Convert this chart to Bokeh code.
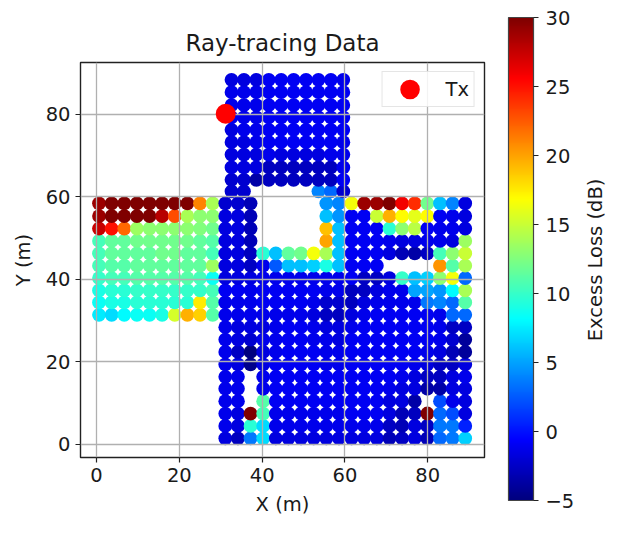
from bokeh.plotting import figure
from bokeh.models import ColumnDataSource, LinearColorMapper, FixedTicker, Legend, LegendItem, ColorBar, LinearAxis
from bokeh.embed import file_html
from bokeh.resources import INLINE
from bokeh.transform import transform

N = None
title_text = "Ray-tracing Data"
x_label = "X (m)"
y_label = "Y (m)"
cbar_label = "Excess Loss (dB)"
legend_label = "Tx"
tx_x = [31.2]
tx_y = [80.1]
x_ticks = [0, 20, 40, 60, 80]
y_ticks = [0, 20, 40, 60, 80]
cbar_ticks = [-5, 0, 5, 10, 15, 20, 25, 30]

x_main = [0.6, 3.65, 6.7, 9.75, 12.8, 15.85, 18.9, 21.95, 25.0, 28.05,
          31.1, 34.15, 37.2, 40.25, 43.3, 46.35, 49.4, 52.45, 55.5, 58.55,
          61.6, 64.65, 67.7, 70.75, 73.8, 76.85, 79.9, 82.95, 86.0, 89.05]
y_main = [1.5, 4.5, 7.5, 10.5, 13.5, 16.4, 19.4, 22.4, 25.4, 28.4,
          31.4, 34.4, 37.3, 40.3, 43.3, 46.3, 49.3, 52.3, 55.3, 58.4]
x_top = [32.6, 35.6, 38.6, 41.6, 44.6, 47.6, 50.6, 53.6, 56.6, 59.6]
y_top = [61.3, 64.1, 67.1, 70.2, 73.2, 76.2, 79.2, 82.2, 85.3, 88.3]

# main grid, rows from y = 1.5 upward, 30 columns
r00 = [N]*10 + [-1.7, -2.8, 3.5, 7, -1.7, -1.7, -1.7, -1.7, -1.7, -1.7, -1.7, -1.7, -1.7, -3, -2.6, -1.7, -3, 3, 3.5, 6.5]
r01 = [N]*10 + [-1.2, -1.7, 9.5, 7, -1.2, -1.2, -1.2, -1.2, -1.2, -1.2, -1.2, -1.2, -1.2, -2.6, -3, -1.7, -2.6, 3.5, 3.5, 0.5]
r02 = [N]*10 + [-1.2, -1.7, 30, 10.5, -1.2, -1.2, -1.2, -1.2, -1.2, -1.2, -1, -1, -1, -1.7, -3, -2.8, 30, 3, 2, -1.7]
r03 = [N]*10 + [-1.2, -1.2, N, 11, -1, -1, -1, -1, -1, -1, -1, -1, -1, -1.7, -1.7, -3.5, N, 2, -1.2, -1.7]
r04 = [N]*10 + [-1.2, -1.2, N, -1.2, -1, -1, -1, -1, -1, -1, -1, -1, -1, -1.2, -1.7, -1.7, -3.5, -3.5, -1.7, -1.7]
r05 = [N]*10 + [-1.2, -1.2, N, -1.2, -1, -1, -1, -1, -1, -1, -1, -1, -1, -1, -1.2, -1.7, -2.6, -2.8, -1.7, -1.2]
r06 = [N]*10 + [-1.2, -1.7, -4.5, -1.7, -1, -1, -1, -1, -1.2, -1.2, -1, -1, -1, -1, -1, -1.2, -1.7, -2.6, -2.6, -1.7]
r07 = [N]*10 + [-1.2, -2.6, -5, -1.7, -1.2, -1, -1, -1, -1.2, -1.2, -1, -1, -1, -1, -1, -1, -1.2, -1.7, -3, -4]
r08 = [N]*10 + [-1.2, -1.7, -2.2, -1.2, -1.2, -1, -1, -1.2, -1.2, -1.7, -1, -1, -1, -1, -1, -1, -1, -1.2, -2.2, -4]
r09 = [N]*10 + [-1.2, -1.7, -1.7, -1.7, -1.2, -1, -1, -1.2, -1.7, -1.7, -1.2, -1, -1, -1, -1, -1, -1, -1.2, -2.6, -2.6]
r10 = [7.5, 7, 8, 8.5, 8.5, 9, 15.5, 19.5, 18.5, 11,
       -1.2, -1.2, -1.2, -1.2, -1.2, -1.2, -1.2, -1.7, -2.6, -2.8,
       -1.7, -1.2, -1, -1, -1, -1, -1, -1.2, 3, 3]
r11 = [8.5, 9, 9, 9.5, 9.5, 9.5, 9.5, 9.5, 17.5, 11,
       -1.2, -1.2, -1.2, -1, -1, -1, -1, -1.2, -2.2, -2.2,
       -2.8, -1.7, -1.2, -1.2, -1.2, -1.2, 3.5, 4, 3, 11]
r12 = [9, 9.5, 9.5, 10, 10, 10, 10, 10, 10, 10.5,
       -1, -1, -1.2, -1, -1, -1, -1, -1, -1.2, -1.2,
       -2.8, -2.6, -1.7, -1.2, -1.2, 5, 5, 4.5, 8, 14]
r13 = [10, 10.5, 10.5, 11, 11, 11, 11, 11, 10.5, 8.5,
       -1.7, -1.7, -1.7, -1.2, -1.2, -1.2, -1.2, -1.2, -1.2, -1.2,
       -1, -2.6, -2.6, -1.7, 10, 6, 6.5, 13, 16.5, 3]
r14 = [10.5, 11, 11, 11.5, 11.5, 11.5, 11.5, 11.5, 11.5, 13.5,
       -1.7, -1.7, -2.6, -1.2, 2.5, 6, 6, 6.5, 9, 6,
       -1, -1, -1, N, N, N, N, 20.5, 11, 14]
r15 = [10.5, 11.5, 11.5, 11.5, 11.5, 12, 12, 11.5, 11.5, 10.5,
       -1.7, -1.7, -2.8, 9.5, 6, 11.5, 12, 16.5, 14, 6,
       -1, -1, -1, -1.7, -3, -3.5, -2.6, 10.5, 13, 15]
r16 = [10.5, 11.5, 11.5, 12, 12, 12, 12, 12, 11.5, 11,
       -1.7, -1.7, -3, N, N, N, N, N, 20, 6,
       -1, -1, -1, -1.2, -1.7, -1.7, -1.2, -1.2, -1.7, 13.5]
r17 = [27.5, 25, 22, 13.5, 13, 13, 13, 13, 12.5, 12,
       -1.7, -1.7, -3, N, N, N, N, N, 19, 6,
       -1, -1, -1, 9.5, 13, 14.5, -1, -1.2, -1.2, -1.7]
r18 = [29, 30, 30, 30, 30, 28, 23, 14, 13, 13,
       -1.7, -1.7, -3, N, N, N, N, N, 6, 4.5,
       -1, -1, 15, 19.5, 17, 16, 17, -1, -1.2, -1.7]
r19 = [29, 30, 30, 30, 30, 30, 30, 30, 21, 14,
       -2.2, -2.2, -3, N, N, N, N, N, 4.5, 4,
       16.5, 29, 29, 30, 26, 24, 12, 6, 4, -1.7]
main_rows = [r00, r01, r02, r03, r04, r05, r06, r07, r08, r09,
             r10, r11, r12, r13, r14, r15, r16, r17, r18, r19]

# upper room, rows from y = 61.3 upward, 10 columns
t20 = [-2.2, -2.2, N, N, N, N, N, 4, 3, -2.2]
t21 = [-2.2, -2.2, -3.5, -2.8, -2.8, -2.8, -2.8, -2.8, -2.8, -1]
t22 = [-1.7, -1.7, -1.7, -2.8, -2.8, -2.8, -2.8, -2.8, -2.8, -1.2]
t23 = [-1.7, -1.7, -1.7, -1.2, -1.7, -1.7, -1.7, -1.7, -1.2, -1.2]
t24 = [-1.7, -1.7, -1.2, -1, -1, -1, -1, -1, -1, -1.2]
t25 = [-1.7, -1.2, -1.2, -1, -1, -1, -1, -1, -1, -1]
t26 = [-1.2, -1.2, -1.2, -1, -1, -1, -1, -1, -1, -1]
t27 = [-1.2, -1.2, -1.2, -1, -1, -1, -1, -1, -1, -1]
t28 = [-1.2, -1.2, -1.2, -1, -1, -1, -1, -1, -1, -1]
t29 = [-1.7, -1.7, -1.7, -1, -1, -1, -1, -1, -1, -1.2]
top_rows = [t20, t21, t22, t23, t24, t25, t26, t27, t28, t29]


def jet(t):
    def clip(v):
        return max(0.0, min(1.0, v))
    r = clip(min(4 * t - 1.5, -4 * t + 4.5))
    g = clip(min(4 * t - 0.5, -4 * t + 3.5))
    b = clip(min(4 * t + 0.5, -4 * t + 2.5))
    return "#%02x%02x%02x" % (int(r * 255), int(g * 255), int(b * 255))


palette = [jet(i / 255) for i in range(256)]
mapper = LinearColorMapper(palette=palette, low=-5, high=30)

xs, ys, vals = [], [], []
for yy, rw in zip(y_main, main_rows):
    for xx, v in zip(x_main, rw):
        if v is not None:
            xs.append(xx); ys.append(yy); vals.append(v)
for yy, rw in zip(y_top, top_rows):
    for xx, v in zip(x_top, rw):
        if v is not None:
            xs.append(xx); ys.append(yy); vals.append(v)
src = ColumnDataSource(dict(x=xs, y=ys, v=vals))

TXT = "#1a1a1a"
FONT = "DejaVu Sans"
TICK_PX = "19.5px"

p = figure(width=628, height=520, x_range=(-3.87, 93.7), y_range=(-3.15, 92.5),
           output_backend="svg", toolbar_location=None,
           min_border_left=80, min_border_right=144, min_border_top=62, min_border_bottom=63)
p.title.text = title_text
p.title.align = "center"
p.title.text_font = FONT
p.title.text_font_size = "23px"
p.title.text_font_style = "normal"
p.title.text_color = TXT
p.title.standoff = 13

dots = p.scatter("x", "y", source=src, size=13.8, line_color=None,
                 fill_color=transform("v", mapper), level="underlay")
tx = p.scatter(tx_x, tx_y, size=10, line_width=10, color="#ff0000", level="annotation")

for ax, lab, ticks in ((p.xaxis[0], x_label, x_ticks), (p.yaxis[0], y_label, y_ticks)):
    ax.axis_label = lab
    ax.ticker = FixedTicker(ticks=ticks)
    ax.minor_tick_line_color = None
    ax.major_tick_in = 0
    ax.major_tick_out = 5
    ax.major_tick_line_width = 1.2
    ax.major_tick_line_color = "#222222"
    ax.axis_line_color = None
    ax.major_label_text_font = FONT
    ax.major_label_text_font_size = TICK_PX
    ax.major_label_text_color = TXT
    ax.axis_label_text_font = FONT
    ax.axis_label_text_font_size = TICK_PX
    ax.axis_label_text_font_style = "normal"
    ax.axis_label_text_color = TXT
    ax.axis_label_standoff = 8
p.yaxis[0].major_label_orientation = "horizontal"
p.outline_line_color = "#222222"
p.outline_line_width = 1.4
p.grid.grid_line_color = "#b0b0b0"
p.grid.grid_line_width = 1.3
p.grid.level = "glyph"

leg = Legend(items=[LegendItem(label=legend_label, renderers=[tx])],
             location="top_right", margin=9, padding=5, spacing=0,
             glyph_width=44, glyph_height=24, label_standoff=14,
             label_text_font=FONT, label_text_font_size=TICK_PX, label_text_color=TXT,
             border_line_color="#cccccc", border_line_width=1.2, background_fill_alpha=0.85)
p.add_layout(leg)

cbar = ColorBar(color_mapper=mapper, ticker=FixedTicker(ticks=cbar_ticks),
                location=(428, -43), width=25, height=483, padding=0, margin=0,
                border_line_color=None, bar_line_color="#444444", bar_line_width=1.2,
                major_tick_in=0, major_tick_out=5, major_tick_line_color="#222222",
                major_tick_line_width=1.2, minor_tick_line_color=None, label_standoff=7,
                major_label_text_font=FONT, major_label_text_font_size=TICK_PX,
                major_label_text_color=TXT, background_fill_alpha=0)
p.add_layout(cbar)

# this axis only carries the colour bar's rotated title, written as its single tick label
label_axis = LinearAxis(ticker=FixedTicker(ticks=[25]), major_label_overrides={25: cbar_label},
                        major_label_orientation=1.5708, major_label_standoff=105,
                        major_label_text_font=FONT, major_label_text_font_size=TICK_PX,
                        major_label_text_color=TXT,
                        axis_line_color=None, major_tick_line_color=None,
                        minor_tick_line_color=None)
p.add_layout(label_axis, "right")

open("out.html", "w").write(file_html(p, INLINE))
